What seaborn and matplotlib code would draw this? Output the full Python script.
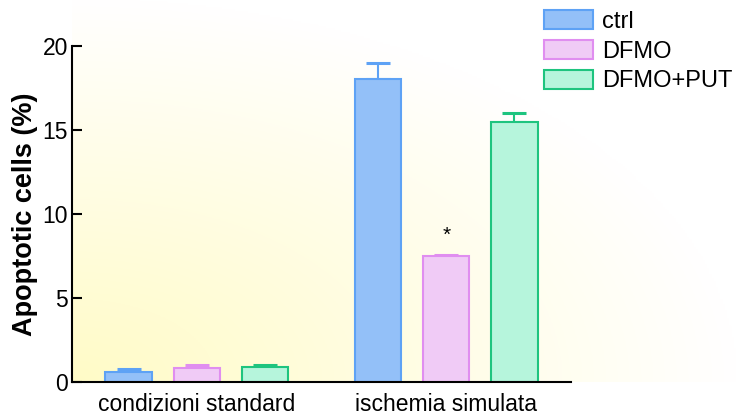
import numpy as np
import pandas as pd
import seaborn as sns
import matplotlib.pyplot as plt

# dati
conditions = ['condizioni standard', 'ischemia simulata']
groups = ['ctrl', 'DFMO', 'DFMO+PUT']
ctrl_mean = [0.61, 18.0]
ctrl_sem = [0.18, 1.0]
dfmo_mean = [0.83, 7.48]
dfmo_sem = [0.20, 0.10]
put_mean = [0.91, 15.49]
put_sem = [0.12, 0.52]

fill_colors = ['#93c0f8', '#f0cbf6', '#b6f5dc']
edge_colors = ['#5ea2f5', '#e08ef0', '#1ec47f']

df = pd.DataFrame({
    'condition': conditions * 3,
    'group': np.repeat(groups, 2),
    'value': ctrl_mean + dfmo_mean + put_mean,
})
sems = [ctrl_sem, dfmo_sem, put_sem]
means = [ctrl_mean, dfmo_mean, put_mean]

sns.set_style('ticks')
plt.rcParams['font.family'] = ['Liberation Sans', 'DejaVu Sans']
plt.rcParams['text.color'] = 'black'
plt.rcParams['xtick.color'] = 'black'
plt.rcParams['ytick.color'] = 'black'
plt.rcParams['axes.labelcolor'] = 'black'

fig = plt.figure(figsize=(7.37, 4.18), dpi=100)
ax = fig.add_axes([0.0977, 0.0861, 0.677, 0.8046])

sns.barplot(data=df, x='condition', y='value', hue='group', hue_order=groups,
            palette=fill_colors, saturation=1, width=0.82, gap=0.32,
            errorbar=None, legend=False, ax=ax, zorder=3)

for cont, ec, m, s in zip(ax.containers, edge_colors, means, sems):
    xs = []
    for p in cont.patches:
        p.set_edgecolor(ec)
        p.set_linewidth(1.5)
        xs.append(p.get_x() + p.get_width() / 2)
    ax.errorbar(xs, m, yerr=[np.zeros(len(s)), s], fmt='none', ecolor=ec,
                elinewidth=1.5, capsize=8.3, capthick=2.2, zorder=2)

# asterisco sopra DFMO, ischemia simulata
p = ax.containers[1].patches[1]
ax.annotate('*', xy=(p.get_x() + p.get_width() / 2, dfmo_mean[1] + dfmo_sem[1]),
            xytext=(0, 10), textcoords='offset points', ha='center',
            va='baseline', fontsize=15)

# sfondo sfumato giallo
nx, ny = 300, 200
gx, gy = np.meshgrid(np.linspace(0, 1, nx), np.linspace(0, 1, ny))
d = np.sqrt(gx ** 2 + gy ** 2)
t = np.clip(1 - d, 0, 1)
yellow = np.array([1.0, 0.985, 0.78])
img = 1 - t[..., None] * (1 - yellow)
ax.set_facecolor('none')
ax.imshow(img, origin='lower', extent=[0, 1.333, 0, 1.137], transform=ax.transAxes,
          aspect='auto', zorder=0, clip_on=False)

ax.set_xlim(-0.5, 1.5)
ax.set_ylim(0, 20)
ax.set_yticks([0, 5, 10, 15, 20])
ax.set_xlabel('')
ax.set_ylabel('Apoptotic cells (%)', fontsize=19.5, fontweight='bold', labelpad=3)
ax.tick_params(axis='y', labelsize=16.5, direction='in', length=7, width=1.5, pad=3)
ax.tick_params(axis='x', labelsize=16.5, length=0, pad=8)
sns.despine(ax=ax)
for sp in ['left', 'bottom']:
    ax.spines[sp].set_linewidth(1.5)
    ax.spines[sp].set_color('black')
    ax.spines[sp].set_zorder(4)

ax.legend(handles=ax.containers, labels=groups, loc='upper left',
          bbox_to_anchor=(0.738, 0.975), bbox_transform=fig.transFigure,
          frameon=False, fontsize=17, handlelength=2.1, handleheight=0.85,
          labelspacing=0.3, handletextpad=0.35, borderpad=0, borderaxespad=0)

fig.savefig('out.png', dpi=100)
